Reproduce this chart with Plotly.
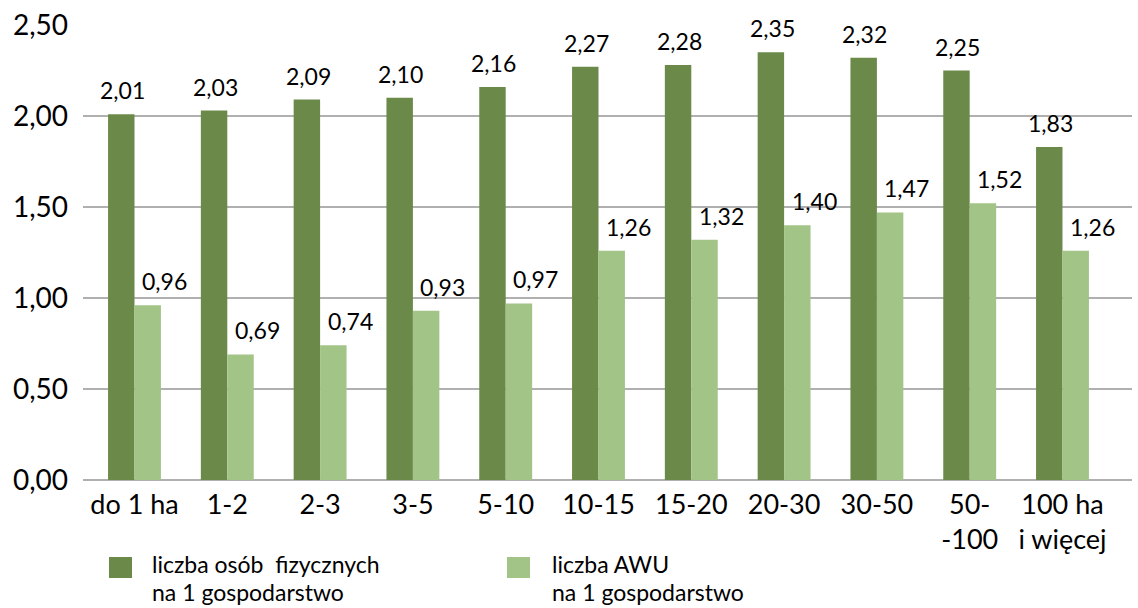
import plotly.graph_objects as go

# Farm size groups (ha)
categories = ["do 1 ha", "1-2", "2-3", "3-5", "5-10", "10-15", "15-20",
              "20-30", "30-50", "50-<br>-100", "100 ha<br>i więcej"]
# Persons per farm
persons = [2.01, 2.03, 2.09, 2.10, 2.16, 2.27, 2.28, 2.35, 2.32, 2.25, 1.83]
# AWU per farm
awu = [0.96, 0.69, 0.74, 0.93, 0.97, 1.26, 1.32, 1.40, 1.47, 1.52, 1.26]

series_lines = [["liczba osób  fizycznych", "na 1 gospodarstwo"],
                ["liczba AWU", "na 1 gospodarstwo"]]
y_ticks = [0, 0.5, 1.0, 1.5, 2.0, 2.5]

DARK = "#6b8a4a"
LIGHT = "#a2c487"
COLORS = [DARK, LIGHT]
FONT = "Lato, 'Open Sans', sans-serif"

W, H = 1138, 608
ML, MR, MT, MB = 83, 6, 25, 128
PW, PH = W - ML - MR, H - MT - MB


def px(x):
    return (x - ML) / PW


def py(y):
    return (H - MB - y) / PH


fig = go.Figure()
fig.add_trace(go.Bar(x=categories, y=persons, name=" ".join(series_lines[0]),
                     marker=dict(color=DARK, line=dict(width=0))))
fig.add_trace(go.Bar(x=categories, y=awu, name=" ".join(series_lines[1]),
                     marker=dict(color=LIGHT, line=dict(width=0))))

# value labels above bars
annotations = []
for values, shift in ((persons, -12), (awu, 30)):
    for cat, v in zip(categories, values):
        annotations.append(dict(x=cat, y=v, text=f"{v:.2f}".replace(".", ","),
                                showarrow=False, xref="x", yref="y",
                                xanchor="center", yanchor="bottom",
                                xshift=shift, yshift=8,
                                font=dict(family=FONT, size=23, color="#000")))

# legend below the chart: colour squares with two-line captions
shapes = []
for (sq_x, txt_x), color, lines in zip(((109, 150), (507, 550)), COLORS, series_lines):
    shapes.append(dict(type="rect", xref="paper", yref="paper",
                       x0=px(sq_x), x1=px(sq_x + 23), y0=py(578), y1=py(557),
                       fillcolor=color, line=dict(width=0)))
    for i, line in enumerate(lines):
        annotations.append(dict(x=px(txt_x), y=py(564 + 28 * i), text=line,
                                showarrow=False, xref="paper", yref="paper",
                                xanchor="left", yanchor="middle",
                                font=dict(family=FONT, size=23, color="#000")))

fig.update_layout(
    width=W, height=H,
    margin=dict(l=ML, r=MR, t=MT, b=MB, autoexpand=False),
    paper_bgcolor="white", plot_bgcolor="white",
    separators=", ",
    barmode="group", bargap=0.43, bargroupgap=0,
    font=dict(family=FONT, color="#000"),
    annotations=annotations,
    shapes=shapes,
    showlegend=False,
)
fig.update_xaxes(type="category", range=[-0.555, 10.749], automargin=False,
                 tickfont=dict(family=FONT, size=27, color="#000"),
                 showline=False, showgrid=False, ticks="", ticklabelstandoff=6)
fig.update_yaxes(range=[0, 2.5], tickvals=y_ticks, tickformat=".2f", automargin=False,
                 tickfont=dict(family=FONT, size=28, color="#000"),
                 showgrid=True, gridcolor="#b0b0b0", gridwidth=1.5,
                 zeroline=True, zerolinecolor="#b0b0b0", zerolinewidth=1.5,
                 showline=False, ticks="", ticklabelstandoff=14)

fig.write_html("out.html")
